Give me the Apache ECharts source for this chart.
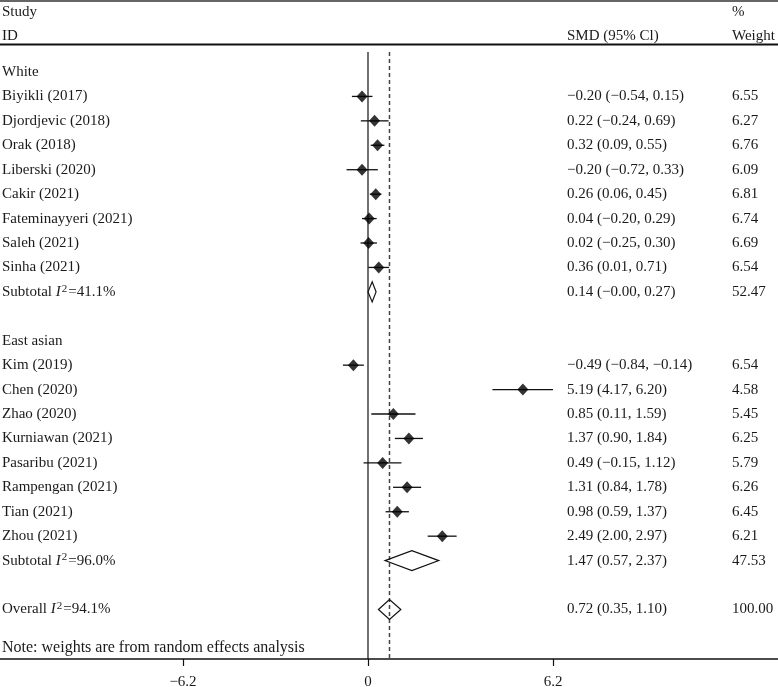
<!DOCTYPE html>
<html><head><meta charset="utf-8">
<script src="https://cdn.jsdelivr.net/npm/echarts@6/dist/echarts.min.js"></script>
<style>html,body{margin:0;padding:0;background:#fff}#c{width:778px;height:687px}</style>
</head><body><div id="c"></div><script>
// ---- data ----
const whiteStudies = ['Biyikli (2017)','Djordjevic (2018)','Orak (2018)','Liberski (2020)','Cakir (2021)','Fateminayyeri (2021)','Saleh (2021)','Sinha (2021)'];
const whiteEst = [-0.20, 0.22, 0.32, -0.20, 0.26, 0.04, 0.02, 0.36];
const whiteLo  = [-0.54, -0.24, 0.09, -0.72, 0.06, -0.20, -0.25, 0.01];
const whiteHi  = [0.15, 0.69, 0.55, 0.33, 0.45, 0.29, 0.30, 0.71];
const whiteWeight = [6.55, 6.27, 6.76, 6.09, 6.81, 6.74, 6.69, 6.54];
const whiteSubtotal = {i2: '41.1%', est: 0.14, lo: -0.00, hi: 0.27, weight: 52.47};

const asianStudies = ['Kim (2019)','Chen (2020)','Zhao (2020)','Kurniawan (2021)','Pasaribu (2021)','Rampengan (2021)','Tian (2021)','Zhou (2021)'];
const asianEst = [-0.49, 5.19, 0.85, 1.37, 0.49, 1.31, 0.98, 2.49];
const asianLo  = [-0.84, 4.17, 0.11, 0.90, -0.15, 0.84, 0.59, 2.00];
const asianHi  = [-0.14, 6.20, 1.59, 1.84, 1.12, 1.78, 1.37, 2.97];
const asianWeight = [6.54, 4.58, 5.45, 6.25, 5.79, 6.26, 6.45, 6.21];
const asianSubtotal = {i2: '96.0%', est: 1.47, lo: 0.57, hi: 2.37, weight: 47.53};

const overall = {i2: '94.1%', est: 0.72, lo: 0.35, hi: 1.10, weight: 100.00};
const groupNames = ['White', 'East asian'];
const tickValues = [-6.2, 0, 6.2];
const noteText = 'Note: weights are from random effects analysis';

// ---- layout constants (pixels) ----
const W = 778, H = 687;
const FONT = 'Liberation Serif, Times New Roman, serif';
const FS = 15;
const TXT = '#1a1a1a';
const X0PX = 368, XSCALE = 29.84;          // px of zero, px per unit
const ROW0Y = 72, ROWSTEP = 24.43, AXISY = 659;
const COL_LABEL = 2, COL_CI = 567, COL_W = 732;

function fmt(v) {
  if (v < 0 || Object.is(v, -0)) return '\u2212' + Math.abs(v).toFixed(2);
  return v.toFixed(2);
}

// ---- build rows ----
const rows = [];
let r = 0;
function addGroup(name, studies, est, lo, hi, wt, sub) {
  rows.push({row: r++, label: name, kind: 'head'});
  for (let i = 0; i < studies.length; i++) {
    rows.push({row: r++, label: studies[i], kind: 'study', est: est[i], lo: lo[i], hi: hi[i], weight: wt[i]});
  }
  rows.push({row: r++, label: 'Subtotal', i2: sub.i2, kind: 'pooled', est: sub.est, lo: sub.lo, hi: sub.hi, weight: sub.weight});
  r++; // blank
}
addGroup(groupNames[0], whiteStudies, whiteEst, whiteLo, whiteHi, whiteWeight, whiteSubtotal);
addGroup(groupNames[1], asianStudies, asianEst, asianLo, asianHi, asianWeight, asianSubtotal);
rows.push({row: r++, label: 'Overall', i2: overall.i2, kind: 'pooled', est: overall.est, lo: overall.lo, hi: overall.hi, weight: overall.weight});
const noteRow = 23.58;

const studyRows = rows.filter(d => d.kind === 'study');
const pooledRows = rows.filter(d => d.kind === 'pooled');

const yMin = -ROW0Y / ROWSTEP;
const yMax = (AXISY - ROW0Y) / ROWSTEP;
const xMin = -X0PX / XSCALE;
const xMax = (W - X0PX) / XSCALE;
const lineTopRow = (52 - ROW0Y) / ROWSTEP;

const richStyles = {
  n: {fontFamily: FONT, fontSize: FS, fill: TXT},
  i: {fontFamily: FONT, fontSize: FS, fontStyle: 'italic', fill: TXT, padding: [0, 1, 0, 0]},
  s: {fontFamily: FONT, fontSize: 11, fill: TXT, verticalAlign: 'top', padding: [0, 1, 6, 0]}
};

function textEl(x, y, text, rich, size) {
  return {type: 'text', x: x, y: y, style: {text: text, fontFamily: FONT, fontSize: size || FS, fill: TXT, align: 'left', verticalAlign: 'middle', rich: rich ? richStyles : undefined}};
}

const chart = echarts.init(document.getElementById('c'), null, {renderer: 'canvas'});
chart.setOption({
  animation: false,
  backgroundColor: '#fff',
  grid: {left: 0, right: 0, top: 0, bottom: H - AXISY, containLabel: false, outerBoundsMode: 'none'},
  xAxis: {
    type: 'value', min: xMin, max: xMax,
    axisLine: {show: true, onZero: false, lineStyle: {color: '#111', width: 1.5}},
    axisTick: {show: true, customValues: tickValues, length: 7, lineStyle: {color: '#111', width: 1.2}},
    axisLabel: {show: true, customValues: tickValues, margin: 15.5, fontFamily: FONT, fontSize: FS, color: TXT,
      formatter: v => (v < 0 ? '\u2212' + Math.abs(v) : String(v))},
    splitLine: {show: false}
  },
  yAxis: {type: 'value', inverse: true, min: yMin, max: yMax, show: false, splitLine: {show: false}},
  graphic: [
    {type: 'line', shape: {x1: 0, y1: 1, x2: W, y2: 1}, style: {stroke: '#333', lineWidth: 1.5}},
    {type: 'line', shape: {x1: 0, y1: 44.5, x2: W, y2: 44.5}, style: {stroke: '#111', lineWidth: 2}},
    {type: 'text', x: COL_LABEL, y: 12, style: {text: 'Study', fontFamily: FONT, fontSize: FS, fill: TXT, verticalAlign: 'middle'}},
    {type: 'text', x: COL_LABEL, y: 36, style: {text: 'ID', fontFamily: FONT, fontSize: FS, fill: TXT, verticalAlign: 'middle'}},
    {type: 'text', x: COL_CI, y: 36, style: {text: 'SMD (95% Cl)', fontFamily: FONT, fontSize: FS, fill: TXT, verticalAlign: 'middle'}},
    {type: 'text', x: COL_W, y: 12, style: {text: '%', fontFamily: FONT, fontSize: FS, fill: TXT, verticalAlign: 'middle'}},
    {type: 'text', x: COL_W, y: 36, style: {text: 'Weight', fontFamily: FONT, fontSize: FS, fill: TXT, verticalAlign: 'middle'}}
  ],
  series: [
    { // zero line
      type: 'line', data: [[0, lineTopRow], [0, yMax]], symbol: 'none', silent: true, z: 1,
      lineStyle: {color: '#111', width: 1.2}
    },
    { // overall estimate dashed line
      type: 'line', data: [[overall.est, lineTopRow], [overall.est, yMax]], symbol: 'none', silent: true, z: 1,
      lineStyle: {color: '#444', width: 1.5, type: [4, 3]}
    },
    { // CI whiskers
      type: 'custom', z: 2,
      data: studyRows.map(d => [d.lo, d.hi, d.row]),
      encode: {x: [0, 1], y: 2},
      renderItem: (p, api) => {
        const a = api.coord([api.value(0), api.value(2)]);
        const b = api.coord([api.value(1), api.value(2)]);
        return {type: 'line', shape: {x1: a[0], y1: a[1], x2: b[0], y2: b[1]}, style: {stroke: '#111', lineWidth: 1.3}};
      }
    },
    { // study point estimates
      type: 'scatter', z: 3, symbol: 'diamond', symbolSize: [11, 12],
      itemStyle: {color: '#000'},
      data: studyRows.map(d => [d.est, d.row])
    },
    { // pooled diamonds
      type: 'custom', z: 3,
      data: pooledRows.map(d => [d.lo, d.est, d.hi, d.row]),
      encode: {x: [0, 1, 2], y: 3},
      renderItem: (p, api) => {
        const l = api.coord([api.value(0), api.value(3)]);
        const e = api.coord([api.value(1), api.value(3)]);
        const h = api.coord([api.value(2), api.value(3)]);
        const hh = 10;
        return {type: 'polygon', shape: {points: [[l[0], l[1]], [e[0], e[1] - hh], [h[0], h[1]], [e[0], e[1] + hh]]},
          style: {fill: 'none', stroke: '#111', lineWidth: 1.2}};
      }
    },
    { // text columns
      type: 'custom', z: 4, silent: true,
      data: rows.map(d => [0, d.row]).concat([[0, noteRow]]),
      encode: {x: 0, y: 1},
      renderItem: (p, api) => {
        const y = api.coord([0, api.value(1)])[1];
        const d = rows[p.dataIndex];
        if (!d) return textEl(COL_LABEL, y, noteText, false, 16);
        const children = [];
        if (d.kind === 'pooled') {
          children.push(textEl(COL_LABEL, y, '{n|' + d.label + ' }{i|I}{s|2}{n|=' + d.i2 + '}', true));
        } else {
          children.push(textEl(COL_LABEL, y, d.label, false));
        }
        if (d.kind !== 'head') {
          children.push(textEl(COL_CI, y, fmt(d.est) + ' (' + fmt(d.lo) + ', ' + fmt(d.hi) + ')', false));
          children.push(textEl(COL_W, y, d.weight.toFixed(2), false));
        }
        return {type: 'group', children: children};
      }
    }
  ]
});
</script></body></html>
